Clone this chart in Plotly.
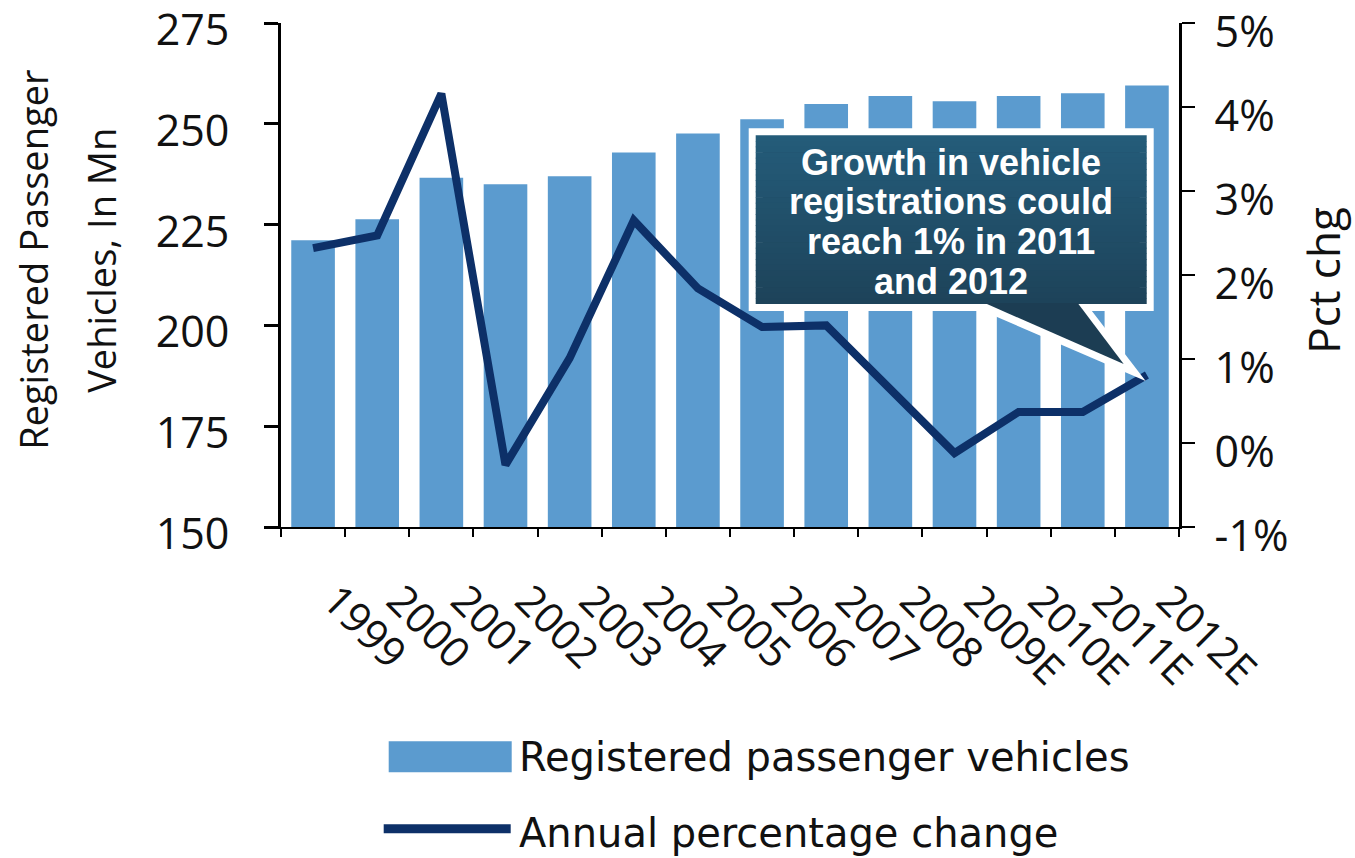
import plotly.graph_objects as go

# Registered passenger vehicles (millions) and annual percentage change
years = ["1999", "2000", "2001", "2002", "2003", "2004", "2005", "2006",
         "2007", "2008", "2009E", "2010E", "2011E", "2012E"]
vehicles_mn = [221.1, 226.3, 236.6, 235.0, 237.0, 242.9, 247.6, 251.1,
               254.9, 256.9, 255.6, 256.9, 257.6, 259.5]
pct_change = [2.32, 2.47, 4.16, -0.26, 1.01, 2.65, 1.84, 1.38,
              1.40, 0.65, -0.12, 0.37, 0.37, 0.81]

left_ticks = [150, 175, 200, 225, 250, 275]
right_ticks = [-1, 0, 1, 2, 3, 4, 5]
right_tick_text = ["-1%", "0%", "1%", "2%", "3%", "4%", "5%"]

callout_lines = ["Growth in vehicle", "registrations could",
                 "reach 1% in 2011", "and 2012"]

BAR_COLOR = "#5B9BCF"
LINE_COLOR = "#0D3068"

W, H = 1355, 858
X0, X1, Y0, Y1 = 281.3, 1179.3, 22.5, 527.3   # plot area in pixels


def fx(x):
    return (x - X0) / (X1 - X0)


def fy(y):
    return (Y1 - y) / (Y1 - Y0)


fig = go.Figure()
fig.add_trace(go.Bar(x=years, y=vehicles_mn, marker_color=BAR_COLOR,
                     marker_line_width=0, width=0.68,
                     name="Registered passenger vehicles"))
fig.add_trace(go.Scatter(x=years, y=pct_change, yaxis="y2", mode="lines",
                         line=dict(color=LINE_COLOR, width=8),
                         name="Annual percentage change"))

tick_font = dict(family="Open Sans, DejaVu Sans, sans-serif", size=43, color="#111")

fig.update_layout(
    width=W, height=H,
    margin=dict(l=X0, r=W - X1, t=Y0, b=H - Y1, pad=0, autoexpand=False),
    paper_bgcolor="white", plot_bgcolor="white",
    showlegend=False, bargap=0.32,
    xaxis=dict(type="category", showgrid=False, tickangle=45, automargin=False,
               ticks="outside", ticklen=8, tickwidth=1.5, tickcolor="black",
               tickson="boundaries", showline=True, linecolor="black",
               linewidth=1.5, tickfont=dict(tick_font, size=42),
               ticklabelstandoff=30, ticklabelshift=22),
    yaxis=dict(range=[149.999, 275.001], tickmode="array", tickvals=left_ticks,
               ticktext=[str(v) for v in left_ticks], showgrid=False,
               zeroline=False, showline=True, linecolor="black", linewidth=3,
               ticks="outside", ticklen=14, tickwidth=3, tickcolor="black",
               tickfont=tick_font, ticklabelstandoff=26, automargin=False,
               ticklabeloverflow="allow", ticklabelshift=7),
    yaxis2=dict(range=[-1.00005, 5.00005], tickmode="array", tickvals=right_ticks,
                ticktext=right_tick_text, automargin=False,
                overlaying="y", side="right", showgrid=False, zeroline=False,
                showline=True, linecolor="black", linewidth=3,
                ticks="outside", ticklen=13, tickwidth=2, tickcolor="black",
                tickfont=tick_font, ticklabelstandoff=11,
                ticklabeloverflow="allow", ticklabelshift=9),
)

shapes = []
annotations = []

# Callout: white-edged box with a pointer towards the last point
box_l, box_r, box_t, box_b = 756, 1147, 135, 304
ptr_a, ptr_b, tip = 985, 1078, (1124, 364)
outline = [(box_l, box_t), (box_r, box_t), (box_r, box_b), (ptr_b, box_b),
           tip, (ptr_a, box_b), (box_l, box_b)]
path = "M " + " L ".join(f"{fx(x):.5f},{fy(y):.5f}" for x, y in outline) + " Z"
shapes.append(dict(type="path", path=path, xref="paper", yref="paper",
                   fillcolor="rgb(29,62,84)", line=dict(color="white", width=14),
                   layer="above"))

top_rgb, bot_rgb = (36, 92, 122), (27, 58, 78)
n_strips = 30
for i in range(n_strips):
    ya = box_t + (box_b - box_t) * i / n_strips
    yb = box_t + (box_b - box_t) * (i + 1) / n_strips + 0.6
    t = ((ya + yb) / 2 - box_t) / (tip[1] - box_t)
    c = tuple(round(a + (b - a) * t) for a, b in zip(top_rgb, bot_rgb))
    shapes.append(dict(type="rect", xref="paper", yref="paper",
                       x0=fx(box_l), x1=fx(box_r), y0=fy(ya), y1=fy(min(yb, box_b)),
                       fillcolor=f"rgb{c}", line=dict(width=0), layer="above"))
ptr = [(ptr_a, box_b - 1), (ptr_b, box_b - 1), tip]
shapes.append(dict(type="path", xref="paper", yref="paper",
                   path="M " + " L ".join(f"{fx(x):.5f},{fy(y):.5f}" for x, y in ptr) + " Z",
                   fillcolor="rgb(28,61,83)", line=dict(width=0), layer="above"))

for i, line in enumerate(callout_lines):
    annotations.append(dict(text=f"<b>{line}</b>", xref="paper", yref="paper",
                            x=fx(951.5), y=fy(162 + 39.7 * i), showarrow=False,
                            xanchor="center", yanchor="middle",
                            font=dict(family="Liberation Sans, Arial, sans-serif",
                                      size=36, color="white")))

# Axis titles
title_font = dict(family="Open Sans, sans-serif", size=38, color="#111")
annotations.append(dict(text="Registered Passenger", xref="paper", yref="paper",
                        x=fx(33), y=fy(260), textangle=-90, showarrow=False,
                        xanchor="center", yanchor="middle", font=title_font))
annotations.append(dict(text="Vehicles, In Mn", xref="paper", yref="paper",
                        x=fx(101), y=fy(260), textangle=-90, showarrow=False,
                        xanchor="center", yanchor="middle", font=title_font))
annotations.append(dict(text="Pct chg", xref="paper", yref="paper",
                        x=fx(1323), y=fy(280), textangle=-90, showarrow=False,
                        xanchor="center", yanchor="middle",
                        font=dict(family="Open Sans, sans-serif", size=44, color="#111")))

# Legend
legend_font = dict(family="DejaVu Sans, sans-serif", size=40, color="#111")
shapes.append(dict(type="rect", xref="paper", yref="paper",
                   x0=fx(389), x1=fx(512), y0=fy(773), y1=fy(742),
                   fillcolor=BAR_COLOR, line=dict(width=0)))
shapes.append(dict(type="line", xref="paper", yref="paper",
                   x0=fx(384), x1=fx(511), y0=fy(829.5), y1=fy(829.5),
                   line=dict(color=LINE_COLOR, width=9)))
annotations.append(dict(text="Registered passenger vehicles", xref="paper", yref="paper",
                        x=fx(517), y=fy(758), xanchor="left", yanchor="middle",
                        showarrow=False, font=legend_font))
annotations.append(dict(text="Annual percentage change", xref="paper", yref="paper",
                        x=fx(517), y=fy(834), xanchor="left", yanchor="middle",
                        showarrow=False, font=legend_font))

fig.update_layout(shapes=shapes, annotations=annotations)
fig.write_html("out.html", config={"displayModeBar": False})
